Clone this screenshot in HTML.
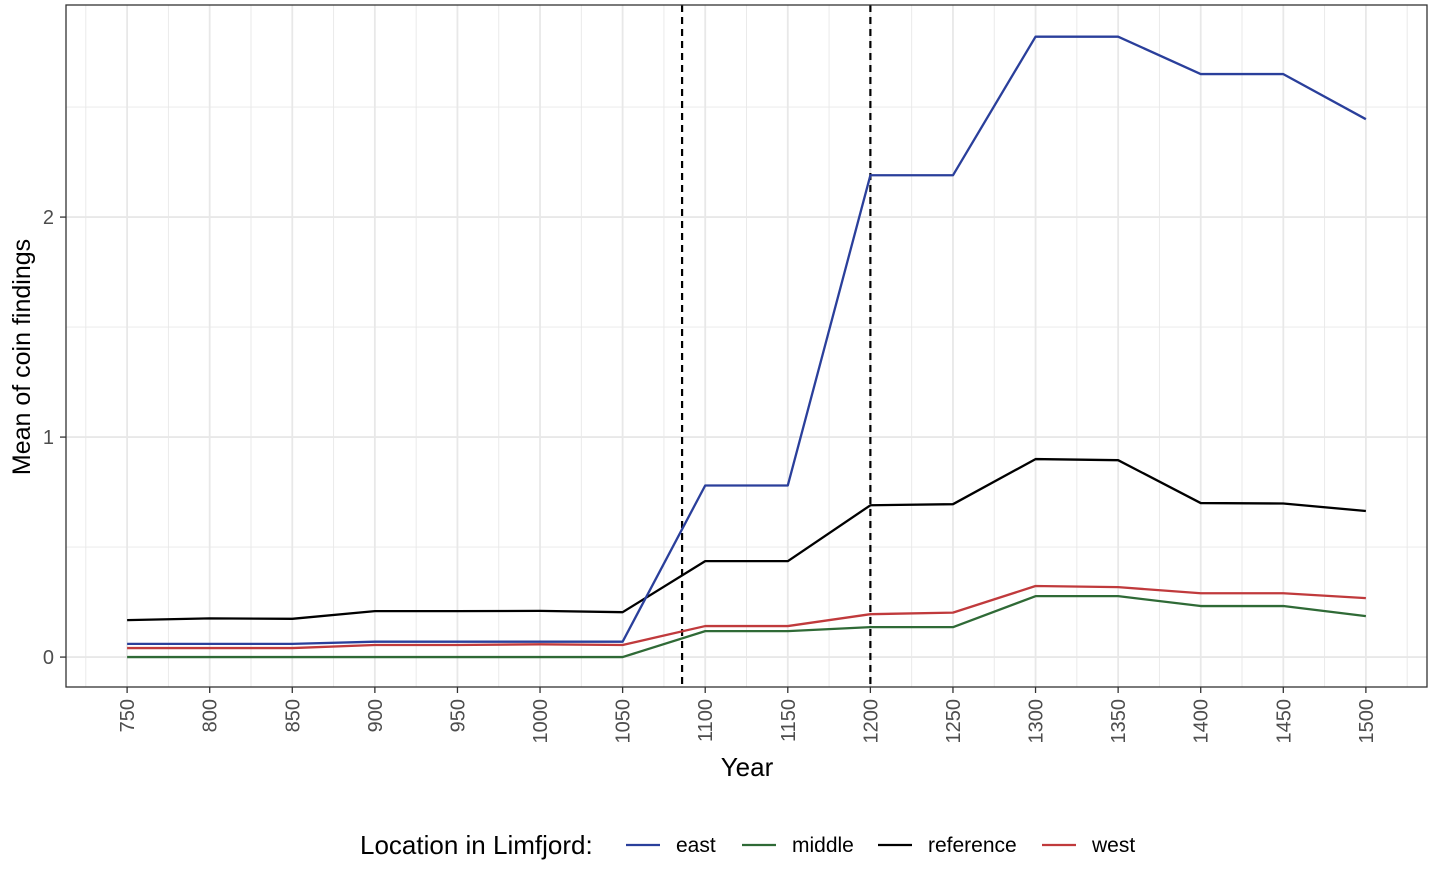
<!DOCTYPE html>
<html><head><meta charset="utf-8">
<style>
body{margin:0;background:#fff;}
svg text{font-family:"Liberation Sans",Arial,sans-serif;}
</style></head>
<body>
<svg id="chart" width="1434" height="864" xmlns="http://www.w3.org/2000/svg">
<g id="grid"></g>
<g id="vlines"></g>
<g id="series"></g>
<rect x="66" y="5" width="1361" height="682" fill="none" stroke="#333" stroke-width="1.3"/>
<g id="axes"></g>
<text x="747" y="776" font-size="26" text-anchor="middle" fill="#000">Year</text>
<text transform="translate(30,357) rotate(-90)" font-size="25" text-anchor="middle" fill="#000">Mean of coin findings</text>
<g id="legend"></g>
</svg>
<script>
const years=[750,800,850,900,950,1000,1050,1100,1150,1200,1250,1300,1350,1400,1450,1500];
const eastVals=[0.06,0.06,0.06,0.07,0.07,0.07,0.07,0.78,0.78,2.19,2.19,2.82,2.82,2.65,2.65,2.445];
const middleVals=[0,0,0,0,0,0,0,0.118,0.118,0.136,0.136,0.277,0.277,0.232,0.232,0.186];
const referenceVals=[0.168,0.176,0.174,0.209,0.209,0.21,0.204,0.436,0.436,0.69,0.695,0.9,0.895,0.7,0.698,0.664];
const westVals=[0.041,0.041,0.041,0.055,0.055,0.058,0.055,0.141,0.141,0.195,0.202,0.323,0.318,0.29,0.29,0.268];
const markerYears=[1086,1200];
const yTicks=[0,1,2];
const seriesNames=["east","middle","reference","west"];
const colors={east:"#2a3f9b",middle:"#2f6a36",reference:"#000000",west:"#c03a3c"};
const NS="http://www.w3.org/2000/svg";
const X0=66,X1=1427,Y0=5,Y1=687;
const xmin=713,xmax=1537,ymin=-0.136,ymax=2.964;
const xs=v=>X0+(v-xmin)/(xmax-xmin)*(X1-X0);
const ys=v=>Y1-(v-ymin)/(ymax-ymin)*(Y1-Y0);
function mk(tag,attrs,parent){const e=document.createElementNS(NS,tag);for(const k in attrs)e.setAttribute(k,attrs[k]);parent.appendChild(e);return e;}
const grid=document.getElementById('grid');
for(let v=725;v<=1525;v+=25){const major=v%50===0;
 const l=mk('line',{x1:xs(v),x2:xs(v),y1:Y0,y2:Y1,stroke:'#e8e8e8','stroke-width':major?1.8:0.9},grid);
 
 }
for(let v=0;v<=2.5;v+=0.5){const major=Number.isInteger(v);
 const l=mk('line',{x1:X0,x2:X1,y1:ys(v),y2:ys(v),stroke:'#e8e8e8','stroke-width':major?1.8:0.9},grid);
 
 }
const vl=document.getElementById('vlines');
markerYears.forEach(y=>{const l=mk('line',{x1:xs(y),x2:xs(y),y1:Y0,y2:Y1,stroke:'#000','stroke-width':2.2,'stroke-dasharray':'7,5'},vl);
 
 });
const sg=document.getElementById('series');
const data={east:eastVals,middle:middleVals,reference:referenceVals,west:westVals};
["middle","west","reference","east"].forEach(n=>{
 const p=mk('polyline',{points:years.map((y,i)=>xs(y)+','+ys(data[n][i])).join(' '),fill:'none',stroke:colors[n],'stroke-width':2.3,'stroke-linejoin':'round'},sg);
 
 });
const ax=document.getElementById('axes');
years.forEach(y=>{mk('line',{x1:xs(y),x2:xs(y),y1:Y1,y2:Y1+6,stroke:'#333','stroke-width':1.3},ax);
 const t=mk('text',{transform:`translate(${xs(y)+7},${Y1+12}) rotate(-90)`,'font-size':20,'text-anchor':'end',fill:'#4d4d4d'},ax);
 t.textContent=y;
 
 });
yTicks.forEach(v=>{mk('line',{x1:X0-6,x2:X0,y1:ys(v),y2:ys(v),stroke:'#333','stroke-width':1.3},ax);
 const t=mk('text',{x:X0-12,y:ys(v)+7,'font-size':20,'text-anchor':'end',fill:'#4d4d4d'},ax);
 t.textContent=v;
 
 });
const lg=document.getElementById('legend');
const lt=mk('text',{x:360,y:854,'font-size':26,fill:'#000'},lg);
lt.textContent='Location in Limfjord:';


const lx=[626,742,878,1042];
seriesNames.forEach((n,i)=>{
 const g=mk('g',{},lg);
 
 
 mk('line',{x1:lx[i],x2:lx[i]+34,y1:845,y2:845,stroke:colors[n],'stroke-width':2.3},g);
 const t=mk('text',{x:lx[i]+50,y:852,'font-size':21,fill:'#000'},g);t.textContent=n;});
</script>
</body></html>
